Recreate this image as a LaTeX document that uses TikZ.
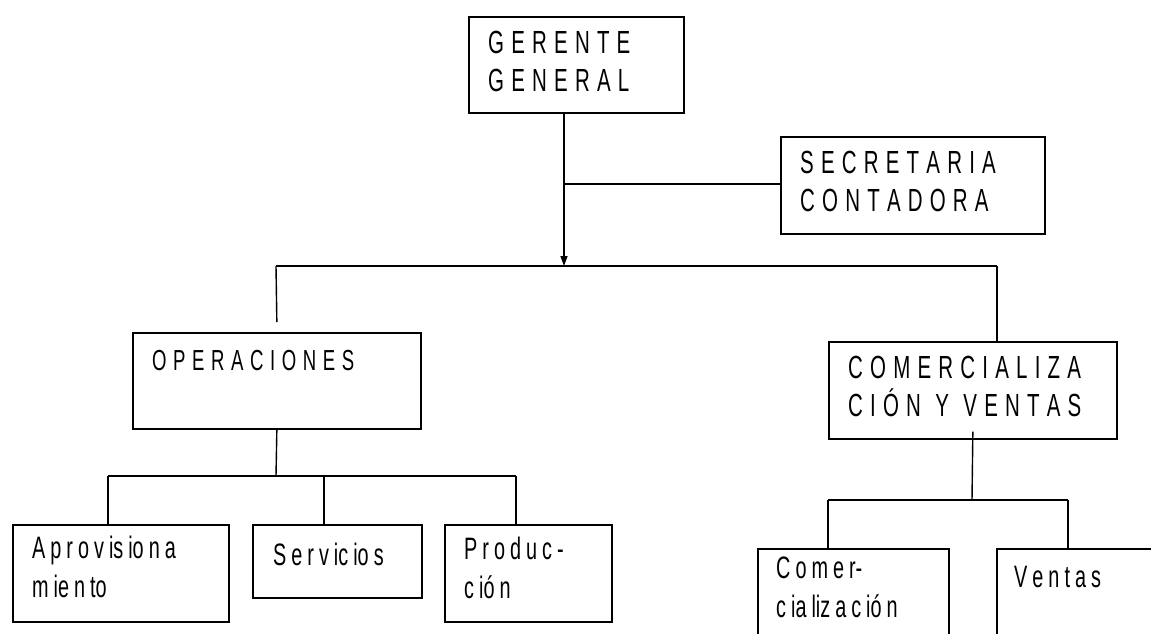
\documentclass[tikz,border=0pt]{standalone}
\usepackage{fontspec}
\setmainfont{Liberation Sans}[FakeStretch=0.64]
\usetikzlibrary{arrows.meta,calc}
\begin{document}
\begin{tikzpicture}[x=1pt,y=-1pt,
  box/.style={draw, line width=1.7pt, rectangle, inner sep=0pt, anchor=north west},
  conn/.style={line width=1.4pt},
  uplbl/.style={anchor=base west, inner sep=0pt, align=left,
    font={\fontsize{32}{37.5}\selectfont\spaceskip=7.2pt\relax}},
  lolbl/.style={anchor=base west, inner sep=0pt, align=left,
    font={\fontsize{31}{38.5}\selectfont\spaceskip=5pt\relax}}]
\useasboundingbox (0,0) rectangle (1151,633);
\clip (0,0) rectangle (1151,633);
% boxes
\node[box, minimum width=215pt, minimum height=96pt] (ger) at (468,16) {};
\node[box, minimum width=264pt, minimum height=97pt] (sec) at (780,136) {};
\node[box, minimum width=288pt, minimum height=96pt] (ope) at (132,332) {};
\node[box, minimum width=288pt, minimum height=97pt] (com) at (828,341) {};
\node[box, minimum width=216pt, minimum height=97pt] (apr) at (12,524) {};
\node[box, minimum width=169pt, minimum height=73pt] (ser) at (252,524) {};
\node[box, minimum width=167pt, minimum height=97pt] (pro) at (444,524) {};
\node[box, minimum width=191pt, minimum height=120pt] (cml) at (757,548) {};
\node[box, minimum width=220pt, minimum height=120pt] (ven) at (996,548) {};
% texts (base = baseline of the last line)
\node[uplbl] (tger) at (488,91) {G E R E N T E\\G E N E R A L};
\node[uplbl] (tsec) at (800,211) {S E C R E T A R I A\\C O N T A D O R A};
\node[uplbl, font={\fontsize{29}{36}\selectfont\spaceskip=6.6pt\relax}] (tope) at (152,370) {O P E R A C I O N E S};
\node[uplbl] (tcom) at (848,416) {C O M E R C I A L I Z A\\C I Ó N\ \ Y\ \ V E N T A S};
\node[lolbl] (tapr) at (32,597) {A p r o v is io n a\\m ie n to};
\node[lolbl] (tser) at (273,565) {S e r v ic io s};
\node[lolbl] (tpro) at (464,598) {P r o d u c -\\c ió n};
\node[lolbl] (tcml) at (776,617) {C o m e r-\\c ia liz a c ió n};
\node[lolbl] (tven) at (1014,587) {V e n t a s};
% connectors
\coordinate (jm) at (564,266);
\coordinate (js) at (564,184);
\coordinate (jl) at (276,266);
\coordinate (jr) at (997,266);
\draw[conn,-{Triangle[width=7pt,length=10pt]}] (ger.south -| jm) -- (jm);
\draw[conn] (js) -- (sec.west |- js);
\draw[conn] (jl) -- (jr);
\draw[conn] (jl) -- ($(ope.north)+(0,-10)$);
\draw[conn] (jr) -- (com.north -| jr);
% operaciones branch
\coordinate (ob) at (276,476);
\coordinate (ob1) at (108,476);
\coordinate (ob2) at (324,476);
\coordinate (ob3) at (516,476);
\draw[conn] (ope.south) -- (ob);
\draw[conn] (ob1) -- (ob3);
\draw[conn] (ob1) -- (apr.north -| ob1);
\draw[conn] (ob2) -- (ser.north -| ob2);
\draw[conn] (ob3) -- (pro.north -| ob3);
% comercializacion branch
\coordinate (cb) at (972,500);
\coordinate (cb1) at (828,500);
\coordinate (cb2) at (1068,500);
\draw[conn] ($(com.south)+(0,-8)$) -- (cb);
\draw[conn] (cb1) -- (cb2);
\draw[conn] (cb1) -- (cml.north -| cb1);
\draw[conn] (cb2) -- (ven.north -| cb2);
\end{tikzpicture}
\end{document}
